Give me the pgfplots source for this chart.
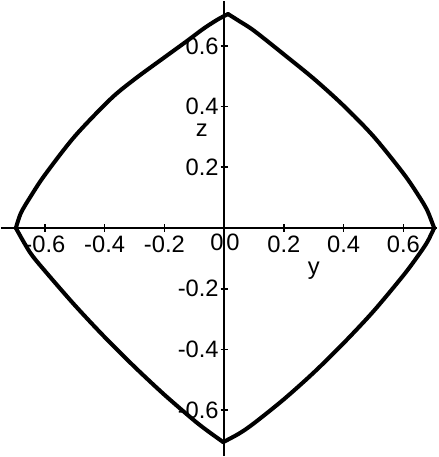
\documentclass[border=0pt]{standalone}
\usepackage{pgfplots}
\pgfplotsset{compat=1.18}
\usepackage{fontspec}
\setmainfont{Liberation Sans}
\begin{document}
\begin{tikzpicture}
\begin{axis}[
  scale only axis,
  width=183.96pt, height=191.94pt,
  xmin=-0.747, xmax=0.713, ymin=-0.751, ymax=0.748,
  axis lines=middle,
  axis line style={-, line width=0.8pt},
  xtick={-0.6,-0.4,-0.2,0.2,0.4,0.6},
  ytick={-0.6,-0.4,-0.2,0.2,0.4,0.6},
  xticklabels={-0.6,-0.4,-0.2,0.2,0.4,0.6},
  yticklabels={-0.6,-0.4,-0.2,0.2,0.4,0.6},
  minor tick num=4,
  major tick length=3pt, minor tick length=2pt,
  tick style={black, line width=0.7pt},
  xticklabel style={font=\normalsize, fill=white, inner sep=0.8pt, anchor=north, yshift=-1pt},
  yticklabel style={font=\normalsize, fill=white, inner sep=0.6pt, anchor=east},
  clip=false,
]
% upper right arc
\addplot[black, line width=1.7pt, smooth, tension=0.5, line cap=round] coordinates {
  (0.013,0.705) (0.05,0.682) (0.1,0.650) (0.2,0.572) (0.3,0.492) (0.4,0.403)
  (0.5,0.302) (0.6,0.180) (0.65,0.108) (0.68,0.058) (0.703,0)
};
% lower right arc
\addplot[black, line width=1.7pt, smooth, tension=0.5, line cap=round] coordinates {
  (0.703,0) (0.68,-0.046) (0.65,-0.090) (0.6,-0.156) (0.5,-0.274) (0.4,-0.379)
  (0.3,-0.476) (0.2,-0.564) (0.1,-0.643) (0.05,-0.677) (-0.003,-0.705)
};
% lower left arc
\addplot[black, line width=1.7pt, smooth, tension=0.5, line cap=round] coordinates {
  (-0.003,-0.705) (-0.05,-0.672) (-0.1,-0.634) (-0.2,-0.549) (-0.3,-0.457)
  (-0.4,-0.359) (-0.5,-0.254) (-0.6,-0.141) (-0.65,-0.080) (-0.697,0)
};
% upper left arc
\addplot[black, line width=1.7pt, smooth, tension=0.5, line cap=round] coordinates {
  (-0.697,0) (-0.68,0.050) (-0.647,0.105) (-0.6,0.175) (-0.5,0.302) (-0.38,0.425)
  (-0.3,0.490) (-0.2,0.562) (-0.123,0.617) (-0.07,0.656) (-0.023,0.686) (0.013,0.705)
};
% axis names and the origin label
\node[font=\normalsize] at (axis cs:0.30,-0.14) {y};
\node[font=\normalsize] at (axis cs:-0.075,0.322) {z};
\node[font=\normalsize, anchor=north, inner sep=0.8pt] at (axis cs:0.003,-0.012) {0\kern1.2pt0};
\end{axis}
\end{tikzpicture}
\end{document}
